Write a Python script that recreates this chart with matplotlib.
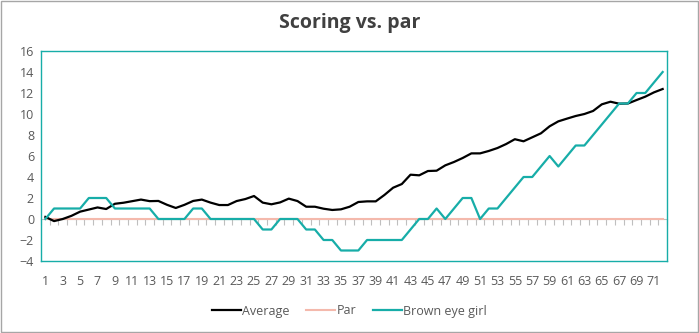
"""Scoring vs. par line chart."""

import matplotlib

matplotlib.use("Agg")
import matplotlib.pyplot as plt
from matplotlib.patches import Rectangle

holes = list(range(1, 73))

average = [
    0.2, -0.2, 0.0, 0.3, 0.7, 0.9, 1.1, 0.95, 1.45, 1.55,
    1.7, 1.85, 1.7, 1.72, 1.35, 1.05, 1.35, 1.72, 1.85, 1.56,
    1.33, 1.33, 1.71, 1.9, 2.19, 1.56, 1.4, 1.58, 1.94, 1.71,
    1.17, 1.17, 0.98, 0.86, 0.92, 1.17, 1.62, 1.68, 1.68, 2.29,
    2.98, 3.33, 4.22, 4.16, 4.57, 4.6, 5.11, 5.43, 5.81, 6.25,
    6.25, 6.48, 6.76, 7.14, 7.6, 7.4, 7.78, 8.16, 8.83, 9.3,
    9.56, 9.81, 10.0, 10.29, 10.92, 11.17, 10.98, 11.0, 11.33, 11.65,
    12.06, 12.38,
]
par = [0] * 72
brown_eye_girl = [
    0, 1, 1, 1, 1, 2, 2, 2, 1, 1,
    1, 1, 1, 0, 0, 0, 0, 1, 1, 0,
    0, 0, 0, 0, 0, -1, -1, 0, 0, 0,
    -1, -1, -2, -2, -3, -3, -3, -2, -2, -2,
    -2, -2, -1, 0, 0, 1, 0, 1, 2, 2,
    0, 1, 1, 2, 3, 4, 4, 5, 6, 5,
    6, 7, 7, 8, 9, 10, 11, 11, 12, 12,
    13, 14,
]
x_labels = [str(h) for h in holes[::2]]
y_ticks = list(range(-4, 17, 2))

TEAL = "#17ADA8"
SALMON = "#F4B9AC"
TEXT = "#595959"
GRID_GRAY = "#BFBFBF"

plt.rcParams["font.family"] = ["Open Sans", "DejaVu Sans"]

fig = plt.figure(figsize=(6.99, 3.33), dpi=100)
ax = fig.add_axes([41 / 699, 72 / 333, 626 / 699, 210 / 333])

ax.plot(holes, par, color=SALMON, linewidth=1.5, label="Par", zorder=2)
ax.plot(holes, average, color="black", linewidth=1.6, label="Average", zorder=3)
ax.plot(holes, brown_eye_girl, color=TEAL, linewidth=1.6,
        label="Brown eye girl", zorder=4)

ax.set_xlim(0.5, 72.5)
ax.set_ylim(-4, 16)
ax.set_yticks(y_ticks)
ax.set_xticks(holes[::2])
ax.set_xticklabels(x_labels)
ax.tick_params(axis="both", length=0, labelsize=9, labelcolor=TEXT)
ax.tick_params(axis="y", pad=5)
ax.tick_params(axis="x", pad=10)
for spine in ax.spines.values():
    spine.set_color(TEAL)
    spine.set_linewidth(1.0)

# category axis crossing at zero, tick marks between categories
zero_axis = ax.secondary_xaxis(4 / 20)
zero_axis.set_xticks([h + 0.5 for h in [0] + holes])
zero_axis.tick_params(length=4, width=0.8, color=GRID_GRAY, labelbottom=False,
                      direction="out")
zero_axis.spines["bottom"].set_color(GRID_GRAY)
zero_axis.spines["bottom"].set_linewidth(0.8)

fig.text(0.5, 1 - 23 / 333, "Scoring vs. par", ha="center", va="center",
         fontsize=14, fontweight="bold", color="#404040")

handles, labels = ax.get_legend_handles_labels()
order = [1, 0, 2]
fig.legend([handles[i] for i in order], [labels[i] for i in order],
           loc="center", bbox_to_anchor=(0.5, 1 - 311 / 333), ncol=3,
           frameon=False, fontsize=9, labelcolor=TEXT, handlelength=2.3,
           handletextpad=0.15, columnspacing=1.3)

fig.patches.append(Rectangle((0.001, 0.002), 0.997, 0.996, transform=fig.transFigure,
                             fill=False, edgecolor="#A6A6A6", linewidth=1.0))

fig.savefig("out.png", dpi=100)
